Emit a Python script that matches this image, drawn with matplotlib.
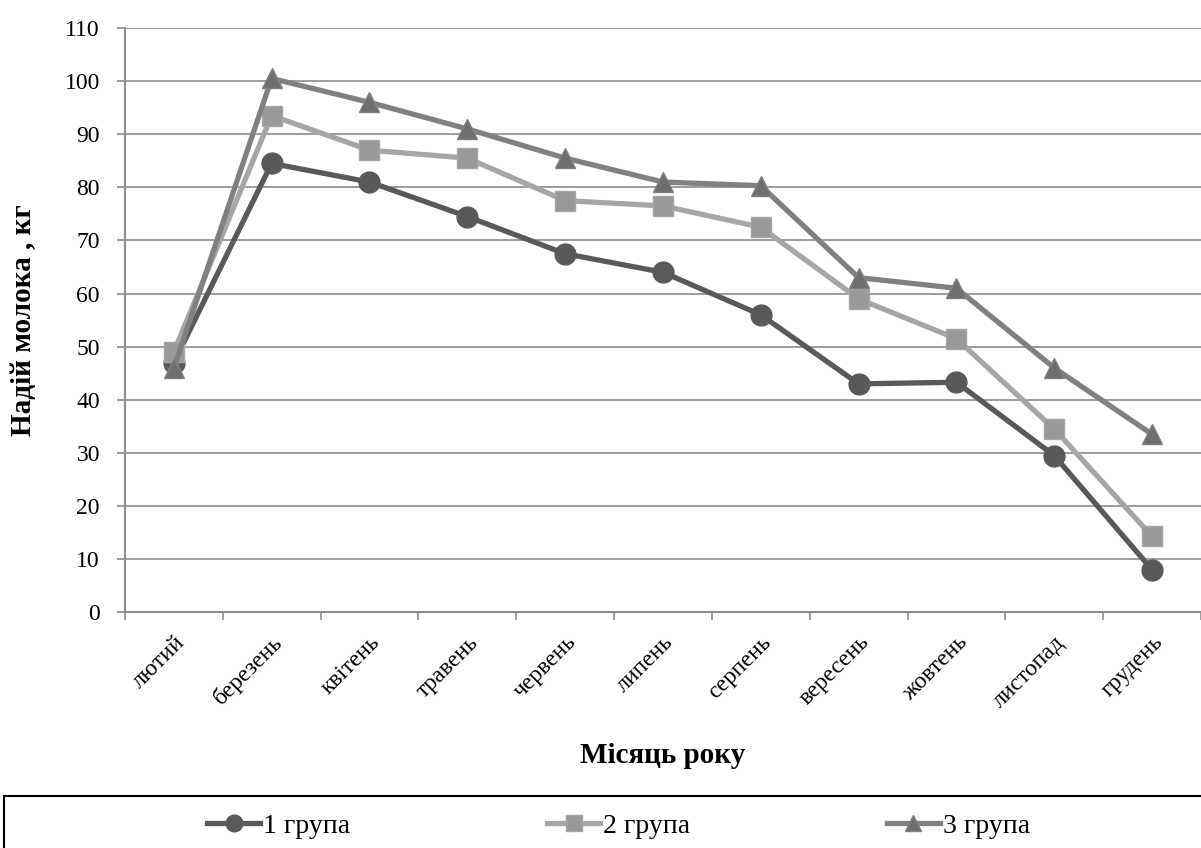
import matplotlib
matplotlib.use('Agg')
import matplotlib.pyplot as plt
import numpy as np

plt.rcParams['font.family'] = ['Liberation Serif', 'DejaVu Serif']

months = ['лютий', 'березень', 'квітень', 'травень', 'червень', 'липень',
          'серпень', 'вересень', 'жовтень', 'листопад', 'грудень']
group1 = [47, 84.5, 81, 74.5, 67.5, 64, 56, 43, 43.3, 29.5, 8]
group2 = [49, 93.5, 87, 85.5, 77.5, 76.5, 72.5, 59, 51.5, 34.5, 14.3]
group3 = [46, 100.5, 96, 91, 85.5, 81, 80.3, 63, 61, 46, 33.5]
names = ['1 група', '2 група', '3 група']

fig = plt.figure(figsize=(12.01, 8.48), dpi=100)
ax = fig.add_axes([0.104, 0.278, 0.896, 0.689])

x = np.arange(len(months))
ax.plot(x, group1, color='#595959', lw=3.8, marker='o', ms=15, label=names[0], zorder=3)
ax.plot(x, group2, color='#a6a6a6', lw=3.8, marker='s', ms=15,
        mfc='#999999', mec='#a6a6a6', label=names[1], zorder=3)
ax.plot(x, group3, color='#808080', lw=3.8, marker='^', ms=15,
        mfc='#6e6e6e', mec='#808080', label=names[2], zorder=4)

ax.set_xlim(-0.5, len(months) - 0.5)
ax.set_ylim(0, 110)
ax.set_yticks(np.arange(0, 111, 10))
ax.grid(axis='y', color='#8c8c8c', lw=1.2)
ax.set_axisbelow(True)

ax.set_xticks(x)
ax.set_xticklabels(months, rotation=45, ha='right', va='top', rotation_mode='anchor', fontsize=17)
ax.set_xticks(np.arange(-0.5, len(months), 1), minor=True)
ax.tick_params(axis='x', which='major', length=0, pad=14)
ax.tick_params(axis='x', which='minor', length=6, color='#8c8c8c', width=1.2)
ax.tick_params(axis='y', length=6, color='#8c8c8c', width=1.2, labelsize=17, pad=12)

for s in ['top', 'right']:
    ax.spines[s].set_visible(False)
for s in ['left', 'bottom']:
    ax.spines[s].set_color('#8c8c8c')
    ax.spines[s].set_linewidth(1.5)

ax.set_ylabel('Надій молока , кг', fontsize=21, fontweight='bold', labelpad=20)
ax.set_xlabel('Місяць року', fontsize=21, fontweight='bold', labelpad=22)

leg = fig.legend(loc='center', bbox_to_anchor=(0.515, 0.026), ncol=3, fontsize=20,
                 frameon=False, columnspacing=7.1, handlelength=1.9, handletextpad=0.1,
                 markerscale=0.8)
fig.patches.append(plt.Rectangle((0.003, -0.01), 1.0, 0.071, transform=fig.transFigure,
                                 fill=False, ec='black', lw=1.5))

fig.savefig('out.png', dpi=100)
